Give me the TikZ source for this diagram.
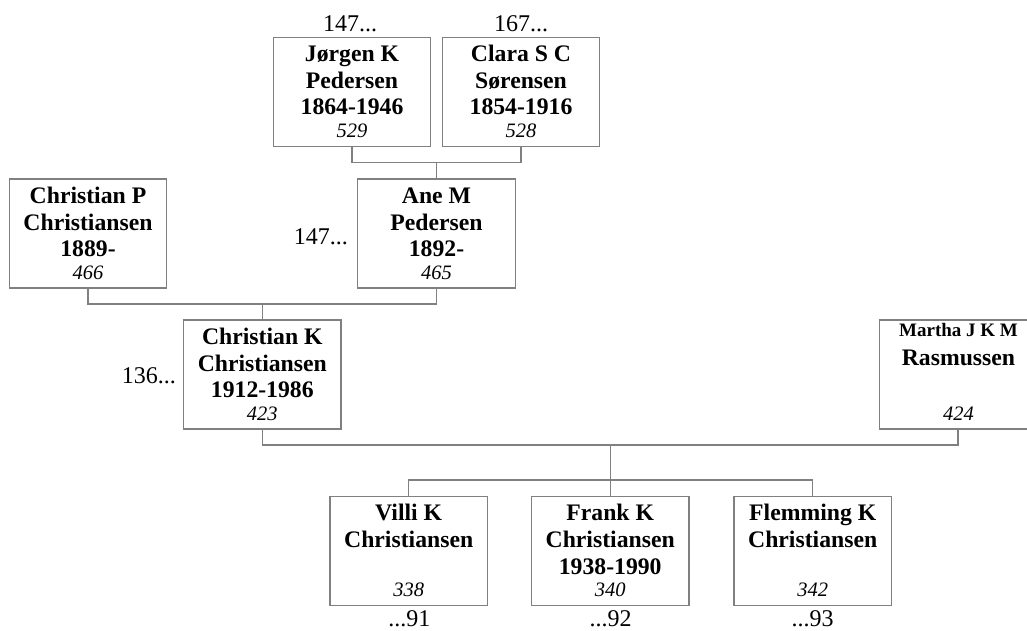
\documentclass[tikz,border=0pt]{standalone}
\usepackage{fontspec}
\setmainfont{Liberation Serif}
\definecolor{linegray}{RGB}{128,128,128}
\tikzset{
  pbox/.style={draw=linegray, line width=1.3pt, minimum width=157.5pt, minimum height=109pt, inner sep=0pt, fill=white},
  nm/.style={anchor=base, inner sep=0pt, font=\fontsize{23.7}{26}\selectfont\bfseries},
  nmsmall/.style={anchor=base, inner sep=0pt, font=\fontsize{19}{21}\selectfont\bfseries},
  num/.style={anchor=base, inner sep=0pt, font=\fontsize{20.5}{22}\selectfont\itshape},
  lbl/.style={inner sep=0pt, font=\fontsize{24}{26}\selectfont},
  conn/.style={draw=linegray, line width=1.3pt},
}
\newcommand\person[7]{%
  \node[pbox] (#1) at (#2,#3) {};
  \node[nm] (#1-l1) at (#2,#3-30.2) {#4};
  \node[nm] (#1-l2) at (#2,#3-3.5) {#5};
  \if\relax\detokenize{#6}\relax\else
  \node[nm] (#1-l3) at (#2,#3+23.2) {#6};\fi
  \node[num] (#1-n) at (#2,#3+45.5) {#7};
}
\begin{document}
\begin{tikzpicture}[x=1pt,y=-1pt]
\useasboundingbox (0,0) rectangle (1027,631);
\clip (0,0) rectangle (1027,631);

\person{jorgen}{352}{91.7}{Jørgen K}{Pedersen}{1864-1946}{529}
\person{clara}{521}{91.7}{Clara S C}{Sørensen}{1854-1916}{528}
\person{chrp}{88}{233.5}{Christian P}{Christiansen}{1889-}{466}
\person{ane}{436.5}{233.5}{Ane M}{Pedersen}{1892-}{465}
\person{chrk}{262.3}{374.5}{Christian K}{Christiansen}{1912-1986}{423}
\person{villi}{408.7}{550.8}{Villi K}{Christiansen}{}{338}
\person{frank}{610.2}{550.8}{Frank K}{Christiansen}{1938-1990}{340}
\person{flemming}{812.7}{550.8}{Flemming K}{Christiansen}{}{342}

\node[pbox] (martha) at (958,374.5) {};
\node[nmsmall] (martha-l1) at (958.5,336.7) {Martha J K M};
\node[nm] (martha-l2) at (958.5,365) {Rasmussen};
\node[num] (martha-n) at (958.5,420) {424};

\node[lbl, anchor=base] (lab1) at (350,31.7) {147...};
\node[lbl, anchor=base] (lab2) at (521,31.7) {167...};
\node[lbl, anchor=base east] (lab3) at (348,244) {147...};
\node[lbl, anchor=base east] (lab4) at (176,383) {136...};
\node[lbl, anchor=base] (lab5) at (409.3,626.7) {...91};
\node[lbl, anchor=base] (lab6) at (610.5,626.7) {...92};
\node[lbl, anchor=base] (lab7) at (812.7,626.7) {...93};

\coordinate (f1) at (436.5,162.3);
\draw[conn] (jorgen.south) |- (f1) -| (clara.south);
\draw[conn] (f1) -- (ane.north);
\coordinate (f2) at (262.3,304);
\draw[conn] (chrp.south) |- (f2) -| (ane.south);
\draw[conn] (f2) -- (chrk.north);
\coordinate (f3) at (610.2,445);
\draw[conn] (chrk.south) |- (f3) -| (martha.south);
\coordinate (k3) at (610.2,480);
\draw[conn] (f3) -- (k3);
\draw[conn] (villi.north) |- (k3) -| (flemming.north);
\draw[conn] (k3) -- (frank.north);
\end{tikzpicture}
\end{document}
